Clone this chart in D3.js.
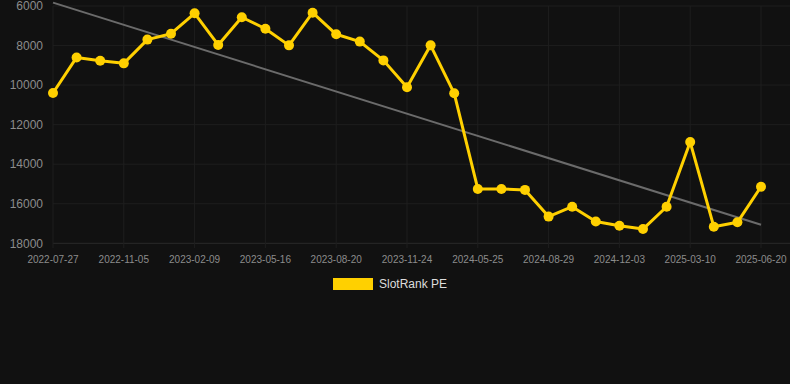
<!DOCTYPE html>
<html>
<head>
<meta charset="utf-8">
<script src="https://cdn.jsdelivr.net/npm/d3@7/dist/d3.min.js"></script>
<style>
  html, body { margin: 0; padding: 0; background: #111111; }
  #chart { width: 790px; height: 384px; }
</style>
</head>
<body>
<div id="chart"></div>
<script>
      // dates on the x axis (only every 3rd one is labelled)
      var dates = [
        '2022-07-27', '2022-08-30', '2022-10-03', '2022-11-05', '2022-12-07', '2023-01-08',
        '2023-02-09', '2023-03-13', '2023-04-14', '2023-05-16', '2023-06-17', '2023-07-19',
        '2023-08-20', '2023-09-21', '2023-10-23', '2023-11-24', '2024-01-24', '2024-03-25',
        '2024-05-25', '2024-06-26', '2024-07-28', '2024-08-29', '2024-09-30', '2024-11-01',
        '2024-12-03', '2025-01-04', '2025-02-06', '2025-03-10', '2025-04-13', '2025-05-17',
        '2025-06-20'
      ];

      var rank = [
        10400, 8600, 8770, 8900, 7700, 7400,
        6370, 7970, 6570, 7150, 7990, 6340,
        7430, 7800, 8750, 10110, 7990, 10415,
        15250, 15250, 15300, 16650, 16150, 16900,
        17110, 17280, 16150, 12880, 17160, 16940,
        15140
      ];

      var yTicks = [6000, 8000, 10000, 12000, 14000, 16000, 18000];
      var seriesName = 'SlotRank PE';

      var width = 790,
        height = 384;

      var svg = d3.select('#chart').append('svg')
        .attr('width', width)
        .attr('height', height)
        .style('font-family', 'Arial, "Liberation Sans", sans-serif');

      svg.append('rect')
        .attr('width', width)
        .attr('height', height)
        .attr('fill', '#111111');

      var x = d3.scalePoint()
        .domain(dates)
        .range([53, 761]);

      // rank axis runs downward: 6000 on top
      var y = d3.scaleLinear()
        .domain([6000, 18000])
        .range([6, 243.3]);

      var gridColor = '#1e1e1e';

      // horizontal grid
      svg.append('g').selectAll('line')
        .data(yTicks)
        .enter().append('line')
        .attr('x1', 53).attr('x2', 790)
        .attr('y1', function(d) { return y(d); })
        .attr('y2', function(d) { return y(d); })
        .attr('stroke', function(d) { return d == 18000 ? '#2a2a2a' : gridColor; })
        .attr('stroke-width', 1);

      var labelled = dates.filter(function(d, i) { return i % 3 == 0; });

      // vertical grid
      svg.append('g').selectAll('line')
        .data(labelled)
        .enter().append('line')
        .attr('x1', function(d) { return x(d); })
        .attr('x2', function(d) { return x(d); })
        .attr('y1', 6)
        .attr('y2', 248)
        .attr('stroke', gridColor)
        .attr('stroke-width', 1);

      // y labels
      svg.append('g').selectAll('text')
        .data(yTicks)
        .enter().append('text')
        .attr('x', 43)
        .attr('y', function(d) { return y(d); })
        .attr('dy', '0.35em')
        .attr('text-anchor', 'end')
        .attr('fill', '#8c8c8c')
        .style('font-size', '12px')
        .text(function(d) { return d; });

      // x labels
      svg.append('g').selectAll('text')
        .data(labelled)
        .enter().append('text')
        .attr('x', function(d) { return x(d); })
        .attr('y', 259)
        .attr('dy', '0.35em')
        .attr('text-anchor', 'middle')
        .attr('fill', '#8c8c8c')
        .style('font-size', '10px')
        .text(function(d) { return d; });

      // least squares trend line over the series
      var n = rank.length,
        mx = d3.mean(rank, function(d, i) { return i; }),
        my = d3.mean(rank),
        sxy = d3.sum(rank, function(d, i) { return (i - mx) * (d - my); }),
        sxx = d3.sum(rank, function(d, i) { return (i - mx) * (i - mx); }),
        slope = sxy / sxx,
        icpt = my - slope * mx;

      svg.append('line')
        .attr('x1', x(dates[0]))
        .attr('y1', y(icpt))
        .attr('x2', x(dates[n - 1]))
        .attr('y2', y(icpt + slope * (n - 1)))
        .attr('stroke', '#6b6b6b')
        .attr('stroke-width', 2);

      var line = d3.line()
        .x(function(d, i) { return x(dates[i]); })
        .y(function(d) { return y(d); });

      svg.append('path')
        .datum(rank)
        .attr('d', line)
        .attr('fill', 'none')
        .attr('stroke', '#ffd000')
        .attr('stroke-width', 3)
        .attr('stroke-linejoin', 'round');

      svg.append('g').selectAll('circle')
        .data(rank)
        .enter().append('circle')
        .attr('cx', function(d, i) { return x(dates[i]); })
        .attr('cy', function(d) { return y(d); })
        .attr('r', 5)
        .attr('fill', '#ffd000');

      // legend
      var legend = svg.append('g');
      legend.append('rect')
        .attr('x', 333).attr('y', 278)
        .attr('width', 40).attr('height', 12)
        .attr('fill', '#ffd000');
      legend.append('text')
        .attr('x', 379).attr('y', 284)
        .attr('dy', '0.35em')
        .attr('fill', '#dddddd')
        .style('font-size', '12px')
        .text(seriesName);
</script>
</body>
</html>
